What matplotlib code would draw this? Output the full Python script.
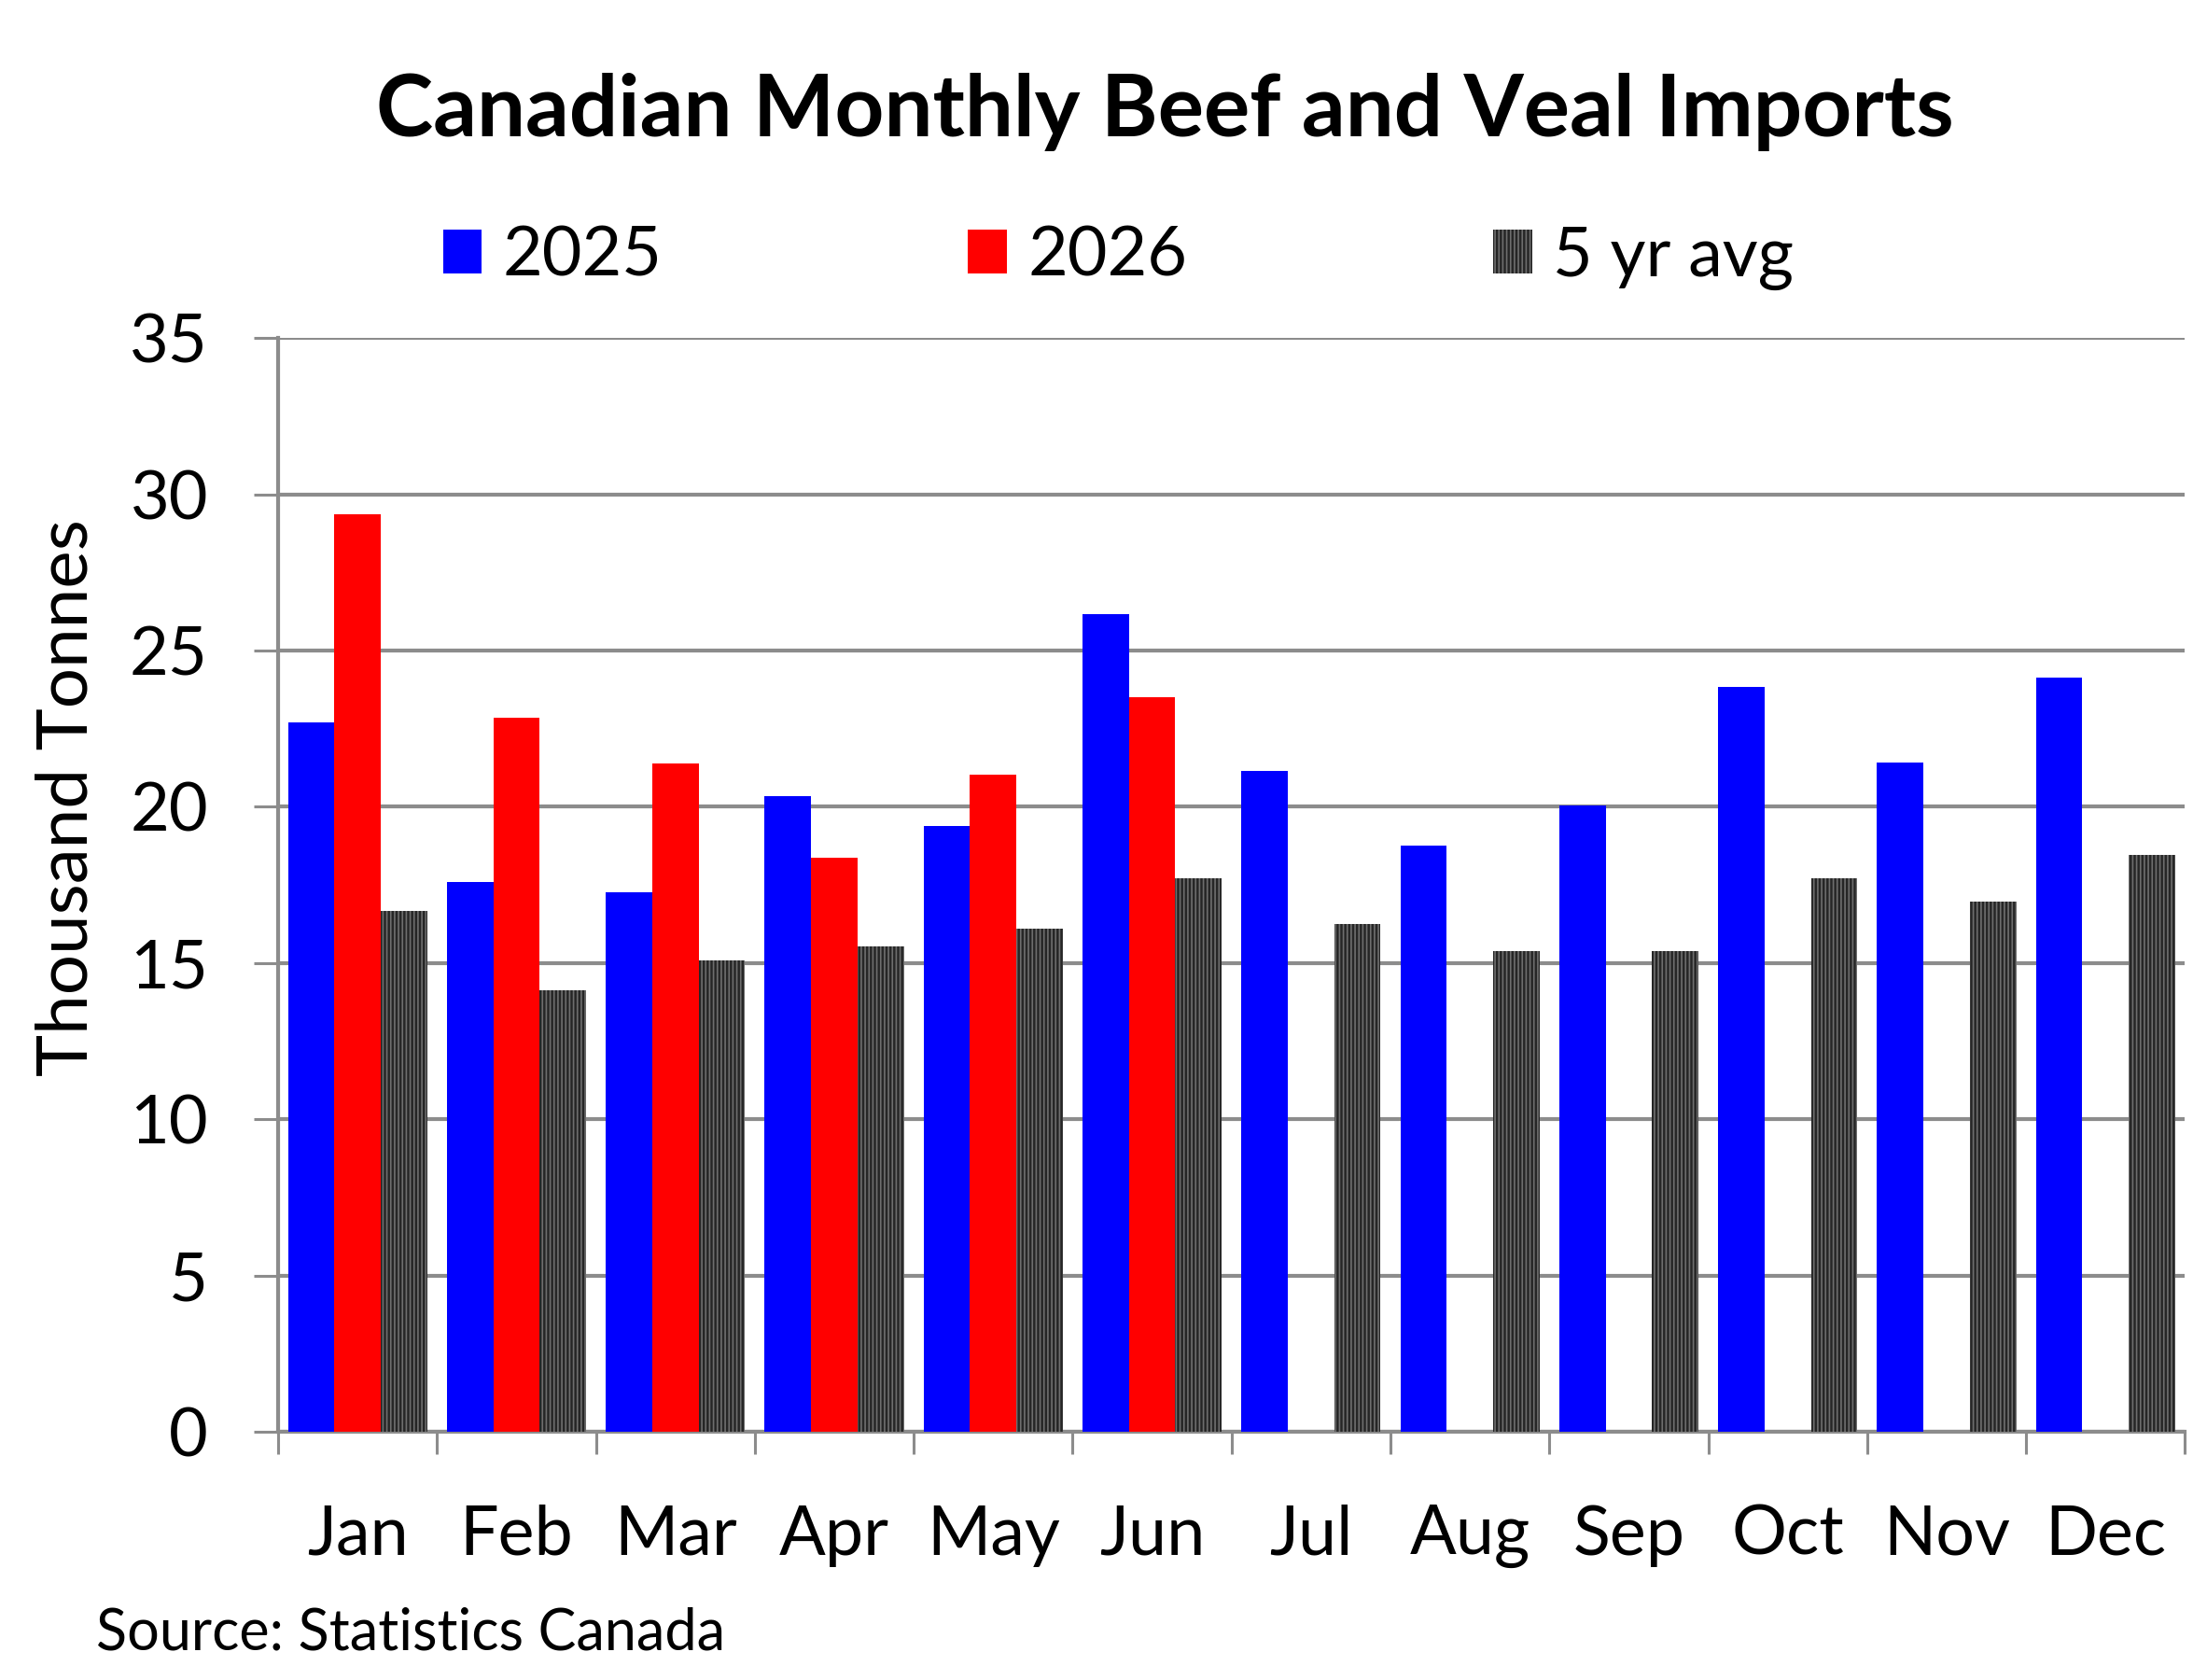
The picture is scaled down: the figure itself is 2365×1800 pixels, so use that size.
import numpy as np
import matplotlib
matplotlib.use("Agg")
import matplotlib.pyplot as plt
from matplotlib.patches import Patch

months = ["Jan", "Feb", "Mar", "Apr", "May", "Jun", "Jul", "Aug", "Sep", "Oct", "Nov", "Dec"]
vals_2025 = [22.7, 17.6, 17.25, 20.33, 19.39, 26.15, 21.14, 18.75, 20.05, 23.84, 21.41, 24.13]
vals_2026 = [29.36, 22.86, 21.38, 18.36, 21.02, 23.51, np.nan, np.nan, np.nan, np.nan, np.nan, np.nan]
vals_avg = [16.66, 14.13, 15.08, 15.53, 16.09, 17.72, 16.25, 15.37, 15.37, 17.72, 16.97, 18.45]
series_names = ["2025", "2026", "5 yr avg"]
y_ticks = [0, 5, 10, 15, 20, 25, 30, 35]

FONT = "Lato"
plt.rcParams["font.family"] = [FONT, "DejaVu Sans"]
plt.rcParams["hatch.linewidth"] = 1.2

GRID = "#8c8c8c"
AVG_FACE = "#262626"
AVG_HATCH = "#6e6e6e"
fig = plt.figure(figsize=(23.65, 18), dpi=100)
ax = fig.add_axes([0.126, 0.1478, 0.864, 0.651])

x = np.arange(len(months))
w = 0.292
ax.bar(x - w, vals_2025, width=w, color="#0000FF", linewidth=0, zorder=3)
ax.bar(x, vals_2026, width=w, color="#FF0000", linewidth=0, zorder=3)
ax.bar(x + w, vals_avg, width=w, facecolor=AVG_FACE, edgecolor=AVG_HATCH,
       hatch="||||", linewidth=0, zorder=3)

ax.set_xlim(-0.5, len(months) - 0.5)
ax.set_ylim(0, 35)
ax.set_yticks(y_ticks)
ax.set_yticklabels([str(t) for t in y_ticks], fontsize=52)
ax.yaxis.grid(True, color=GRID, linewidth=3, zorder=0)
ax.set_axisbelow(True)

ax.set_xticks(x)
ax.set_xticklabels(months, fontsize=53)
ax.set_xticks(np.arange(-0.5, len(months)), minor=True)
ax.tick_params(axis="x", which="major", length=0, pad=56)
ax.tick_params(axis="x", which="minor", length=17, width=2.2, color=GRID, direction="out")
ax.tick_params(axis="y", which="major", length=19, width=2.2, color=GRID, direction="out", pad=35)

for s in ["top", "right"]:
    ax.spines[s].set_visible(False)
for s in ["left", "bottom"]:
    ax.spines[s].set_color(GRID)
    ax.spines[s].set_linewidth(3)

fig.text(0.5277, 0.9189, "Canadian Monthly Beef and Veal Imports", ha="center", va="baseline",
         fontsize=66.5, fontweight="bold")
fig.text(0.0306, 0.525, "Thousand Tonnes", rotation=90, ha="center", va="center", fontsize=55)
fig.text(0.0434, 0.028, "Source: Statistics Canada", ha="left", va="center", fontsize=44)

handles = [Patch(facecolor="#0000FF"), Patch(facecolor="#FF0000"),
           Patch(facecolor=AVG_FACE, edgecolor=AVG_HATCH, hatch="||||", linewidth=0)]
fig.legend(handles, series_names, loc="center", bbox_to_anchor=(0.5066, 0.8467), ncol=3,
           frameon=False, fontsize=53, handlelength=0.57, handleheight=0.6,
           handletextpad=0.3, columnspacing=4.45)

fig.savefig("out.png", dpi=100)
